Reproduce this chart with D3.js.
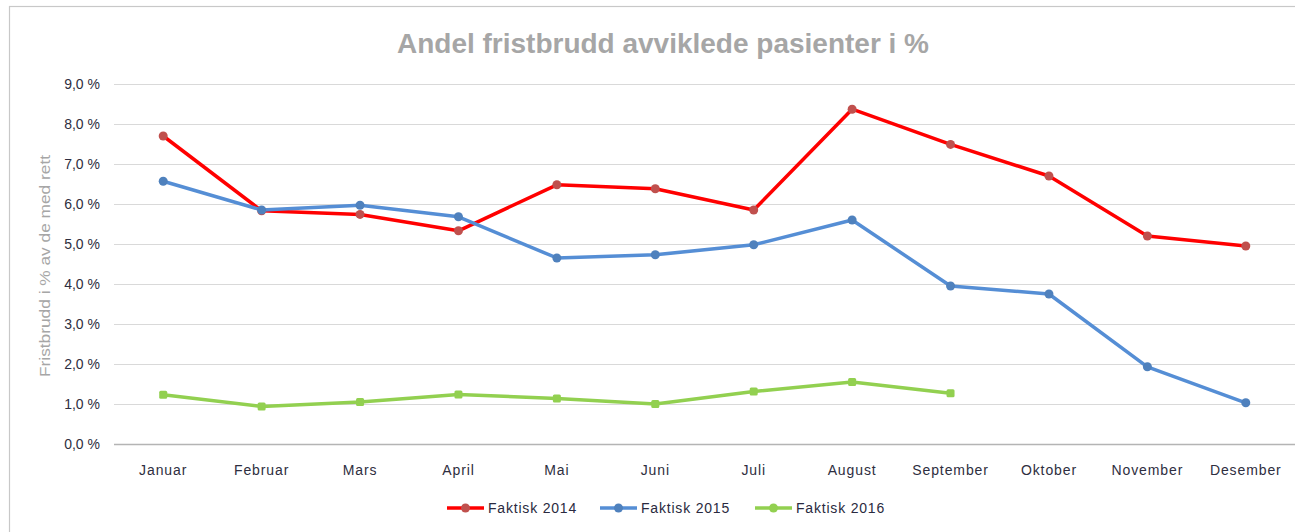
<!DOCTYPE html>
<html>
<head>
<meta charset="utf-8">
<script src="https://cdn.jsdelivr.net/npm/d3@7"></script>
<style>
  body { margin: 0; background: #fff; }
  svg { display: block; font-family: "Liberation Sans", Arial, sans-serif; }
</style>
</head>
<body>
<svg id="chart" width="1295" height="532"></svg>
<script>
// months on x axis
var months = ["Januar", "Februar", "Mars", "April", "Mai", "Juni", "Juli",
              "August", "September", "Oktober", "November", "Desember"];

// values in percent
var faktisk2014 = [7.7, 5.83, 5.74, 5.33, 6.48, 6.38, 5.85, 8.37, 7.49, 6.7, 5.2, 4.95];
var faktisk2015 = [6.57, 5.85, 5.97, 5.68, 4.65, 4.73, 4.98, 5.6, 3.95, 3.75, 1.93, 1.03];
var faktisk2016 = [1.23, 0.94, 1.05, 1.24, 1.14, 1.0, 1.31, 1.55, 1.27];

var yTicks = [0, 1, 2, 3, 4, 5, 6, 7, 8, 9];

var seriesNames = ["Faktisk 2014", "Faktisk 2015", "Faktisk 2016"];

var series = [
  {name: seriesNames[0], values: faktisk2014, line: "#ff0000", marker: "#c0504d", shape: "circle"},
  {name: seriesNames[1], values: faktisk2015, line: "#558ed5", marker: "#4f81bd", shape: "circle"},
  {name: seriesNames[2], values: faktisk2016, line: "#92d050", marker: "#92d050", shape: "square"}
];

var svg = d3.select("svg#chart");

var plotLeft = 114, plotRight = 1295,
    plotTop = 84, plotBottom = 444;

// chart frame
svg.append("rect")
  .attr("x", 9.5).attr("y", 6.5)
  .attr("width", 1300).attr("height", 540)
  .attr("fill", "none")
  .attr("stroke", "#c8c8c8")
  .attr("stroke-width", 1.2);

var x = d3.scaleBand()
  .domain(months)
  .range([plotLeft, plotRight]);

var y = d3.scaleLinear()
  .domain([0, 9])
  .range([plotBottom, plotTop]);

// gridlines
svg.append("g")
  .selectAll("line")
  .data(yTicks.filter(function(d) { return d > 0; }))
  .enter().append("line")
  .attr("x1", plotLeft).attr("x2", plotRight)
  .attr("y1", function(d) { return y(d) + 0.5; })
  .attr("y2", function(d) { return y(d) + 0.5; })
  .attr("stroke", "#d9d9d9")
  .attr("stroke-width", 1.2);

// y axis labels (no axis line, like the reference)
var yAxis = d3.axisLeft(y)
  .tickValues(yTicks)
  .tickSize(0)
  .tickPadding(14)
  .tickFormat(function(d) { return d3.format(".1f")(d).replace(".", ",") + " %"; });

var gy = svg.append("g")
  .attr("transform", "translate(" + plotLeft + ",0)")
  .call(yAxis);
gy.select(".domain").remove();
gy.selectAll("text")
  .attr("font-size", 14)
  .attr("font-family", "Liberation Sans, Arial, sans-serif")
  .attr("fill", "#2e2e40");

// x axis
var xAxis = d3.axisBottom(x).tickSize(0).tickPadding(21);
var gx = svg.append("g")
  .attr("transform", "translate(0," + plotBottom + ")")
  .call(xAxis);
gx.select(".domain")
  .attr("stroke", "#b4b4b4")
  .attr("stroke-width", 1.5)
  .attr("d", "M" + plotLeft + ",0.5H" + plotRight);
gx.selectAll("text")
  .attr("font-size", 14)
  .attr("letter-spacing", 0.9)
  .attr("font-family", "Liberation Sans, Arial, sans-serif")
  .attr("fill", "#2e2e40");

// lines
var line = d3.line()
  .x(function(d, i) { return x(months[i]) + x.bandwidth() / 2; })
  .y(function(d) { return y(d); });

series.forEach(function(s) {
  svg.append("path")
    .datum(s.values)
    .attr("fill", "none")
    .attr("stroke", s.line)
    .attr("stroke-width", 3.5)
    .attr("stroke-linejoin", "round")
    .attr("d", line);

  var pts = svg.append("g").selectAll(".pt")
    .data(s.values)
    .enter();

  if (s.shape == "circle") {
    pts.append("circle")
      .attr("cx", function(d, i) { return x(months[i]) + x.bandwidth() / 2; })
      .attr("cy", function(d) { return y(d); })
      .attr("r", 4.5)
      .attr("fill", s.marker);
  } else {
    pts.append("rect")
      .attr("x", function(d, i) { return x(months[i]) + x.bandwidth() / 2 - 4; })
      .attr("y", function(d) { return y(d) - 4; })
      .attr("width", 8).attr("height", 8)
      .attr("rx", 1.5)
      .attr("fill", s.marker);
  }
});

// title
svg.append("text")
  .attr("x", 663).attr("y", 53)
  .attr("text-anchor", "middle")
  .attr("font-size", 27)
  .attr("font-weight", "bold")
  .attr("fill", "#a6a6a6")
  .attr("textLength", 532)
  .attr("lengthAdjust", "spacingAndGlyphs")
  .text("Andel fristbrudd avviklede pasienter i %");

// y axis title
svg.append("text")
  .attr("transform", "translate(50,266) rotate(-90)")
  .attr("text-anchor", "middle")
  .attr("font-size", 14)
  .attr("fill", "#a6a6a6")
  .attr("textLength", 222)
  .attr("lengthAdjust", "spacingAndGlyphs")
  .text("Fristbrudd i % av de med rett");

// legend
var legendX = [447, 600, 755];
var legend = svg.append("g").selectAll(".legend")
  .data(series)
  .enter().append("g")
  .attr("class", "legend")
  .attr("transform", function(d, i) { return "translate(" + legendX[i] + ",508)"; });

legend.append("line")
  .attr("x1", 0).attr("x2", 37)
  .attr("y1", 0).attr("y2", 0)
  .attr("stroke", function(d) { return d.line; })
  .attr("stroke-width", 3.5);

legend.append("circle")
  .attr("cx", 18.5).attr("cy", 0).attr("r", 4.5)
  .attr("fill", function(d) { return d.marker; });

legend.append("text")
  .attr("x", 41).attr("y", 5)
  .attr("font-size", 14)
  .attr("letter-spacing", 0.8)
  .attr("fill", "#2a2a40")
  .text(function(d) { return d.name; });
</script>
</body>
</html>
